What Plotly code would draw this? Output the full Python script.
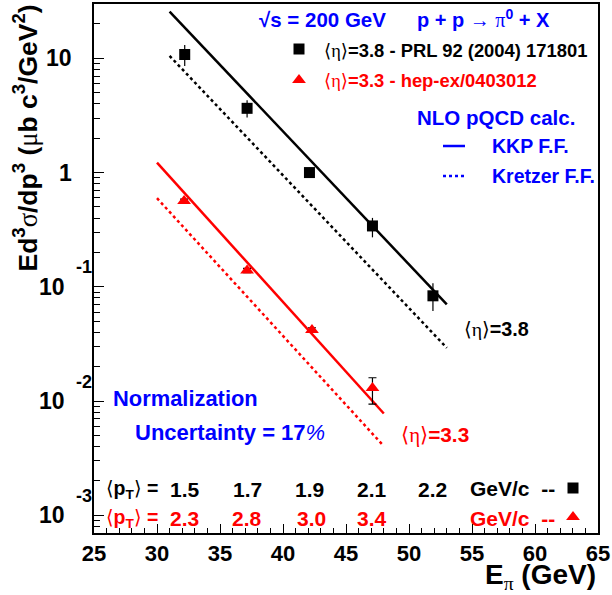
import numpy as np
import plotly.graph_objects as go

# ---------------- data ----------------
e_38 = [32.2, 37.15, 42.1, 47.1, 51.9]
xs_38 = [10.8, 3.65, 1.0, 0.341, 0.0834]
xs_38_up = [2.3, 0.65, 0.10, 0.06, 0.024]
xs_38_dn = [2.25, 0.61, 0.09, 0.07, 0.022]
pt_38 = ["1.5", "1.7", "1.9", "2.1", "2.2"]

e_33 = [32.15, 37.15, 42.3, 47.1]
xs_33 = [0.565, 0.139, 0.0418, 0.0130]
xs_33_up = [0.02, 0.006, 0.002, 0.003]
xs_33_dn = [0.02, 0.006, 0.002, 0.0036]
pt_33 = ["2.3", "2.8", "3.0", "3.4"]

kkp_38_x = [31.0, 53.0]
kkp_38_y = [25.6, 0.0702]
kre_38_x = [31.0, 53.0]
kre_38_y = [10.5, 0.0292]
kkp_33_x = [30.0, 48.0]
kkp_33_y = [1.22, 0.00778]
kre_33_x = [30.0, 48.0]
kre_33_y = [0.597, 0.00403]

x_range = [25, 65]
y_range = [-3.155, 1.4755]  # log10
x_ticks = [25, 30, 35, 40, 45, 50, 55, 60, 65]
y_decades = [-3, -2, -1, 0, 1]

# ---------------- layout helpers ----------------
W, H = 612, 595
L, R, T, B = 94, 14, 4, 62
PW, PH = W - L - R, H - T - B


def px(x):
    return (x - L) / PW


def py(y):
    return (H - B - y) / PH


FONT = "Liberation Sans, Arial, sans-serif"
GREEK = "font-weight:normal;font-family:Liberation Serif"
BRK = "font-weight:normal;font-family:DejaVu Sans"
BLUE = "#0000ff"
RED = "#ff0000"


def g(ch):
    return f"<span style='{GREEK}'>{ch}</span>"


def b(ch):
    return f"<span style='{BRK}'>{ch}</span>"


ETA = b("⟨") + g("η") + b("⟩")
PT = b("⟨") + "p<sub>T</sub>" + b("⟩")

fig = go.Figure()

# theory curves
fig.add_trace(go.Scatter(x=kkp_38_x, y=kkp_38_y, mode="lines",
                         line=dict(color="black", width=2.5)))
fig.add_trace(go.Scatter(x=kre_38_x, y=kre_38_y, mode="lines",
                         line=dict(color="black", width=2.5, dash="dot")))
fig.add_trace(go.Scatter(x=kkp_33_x, y=kkp_33_y, mode="lines",
                         line=dict(color=RED, width=2.5)))
fig.add_trace(go.Scatter(x=kre_33_x, y=kre_33_y, mode="lines",
                         line=dict(color=RED, width=2.5, dash="dot")))

# data points
fig.add_trace(go.Scatter(
    x=e_38, y=xs_38, mode="markers",
    marker=dict(symbol="square", size=11, color="black"),
    error_y=dict(type="data", array=xs_38_up, arrayminus=xs_38_dn,
                 color="black", thickness=1.2, width=0)))
fig.add_trace(go.Scatter(
    x=e_33, y=xs_33, mode="markers",
    marker=dict(symbol="triangle-up", size=12, color=RED),
    error_y=dict(type="data", array=xs_33_up, arrayminus=xs_33_dn,
                 color="black", thickness=1.2, width=4)))

# legend keys on an overlay [0,1]x[0,1] frame
key_sq_x = [px(299), px(573)]
key_sq_y = [py(49), py(488)]
key_tr_x = [px(299), px(573)]
key_tr_y = [py(80), py(517)]
fig.add_trace(go.Scatter(x=key_sq_x, y=key_sq_y, mode="markers", xaxis="x2", yaxis="y2",
                         marker=dict(symbol="square", size=11, color="black")))
fig.add_trace(go.Scatter(x=key_tr_x, y=key_tr_y, mode="markers", xaxis="x2", yaxis="y2",
                         marker=dict(symbol="triangle-up", size=12, color=RED)))
fig.add_trace(go.Scatter(x=[px(443), px(465)], y=[py(146)] * 2, mode="lines",
                         xaxis="x2", yaxis="y2", line=dict(color=BLUE, width=2.5)))
fig.add_trace(go.Scatter(x=[px(443), px(466)], y=[py(176)] * 2, mode="lines",
                         xaxis="x2", yaxis="y2", line=dict(color=BLUE, width=2.5, dash="dot")))

ann = []


def text(t, x, y, size, color, xanchor="left", xref="paper"):
    ann.append(dict(text=t, x=(px(x) if xref == "paper" else x), y=py(y),
                    xref=xref, yref="paper", xanchor=xanchor, yanchor="middle",
                    showarrow=False,
                    font=dict(family=FONT, size=size, color=color, weight="bold")))


text("√s = 200 GeV", 257, 20, 20.5, BLUE)
text("p + p → " + g("π") + "<sup>0</sup> + X", 415, 18, 20, BLUE)
text(ETA + "=3.8 - PRL 92 (2004) 171801", 322, 50, 18.4, "black")
text(ETA + "=3.3 - hep-ex/0403012", 322, 81, 18.4, RED)
text("NLO pQCD calc.", 415, 117, 20.5, BLUE)
text("KKP F.F.", 490, 146, 19.5, BLUE)
text("Kretzer F.F.", 490, 176, 19.5, BLUE)
text(ETA + "=3.8", 462, 329, 19.8, "black")
text(ETA + "=3.3", 399, 435, 20.8, RED)
text("Normalization", 111, 398, 21.9, BLUE)
text("Uncertainty = 17<span style='font-weight:normal;font-style:italic'>%</span>", 133, 432, 22, BLUE)
text(PT + " =", 104, 489, 19.5, "black")
text(PT + " =", 104, 518, 19.5, RED)
for xv, t in zip(e_38, pt_38):
    text(t, xv, 489, 21, "black", xanchor="center", xref="x")
for xv, t in zip(e_33, pt_33):
    text(t, xv, 518, 21, RED, xanchor="center", xref="x")
text("GeV/c  --", 468, 488, 21, "black")
text("GeV/c  --", 468, 518, 21, RED)

# y tick labels (ROOT style)
for d in y_decades:
    if d == 1:
        lab, right = "10", 74
    elif d == 0:
        lab, right = "1", 74
    else:
        lab, right = "10", 67
    ann.append(dict(text=lab, x=px(right), y=d, xref="paper", yref="y",
                    xanchor="right", yanchor="middle", showarrow=False,
                    font=dict(family=FONT, size=23, color="black", weight="bold")))
    if d < 0:
        ann.append(dict(text=str(d), x=px(94), y=d + 19.5 / 114.2, xref="paper", yref="y",
                        xanchor="right", yanchor="middle", showarrow=False,
                        font=dict(family=FONT, size=18, color="black", weight="bold")))

# axis titles
ann.append(dict(text="Ed<sup>3</sup>" + g("σ") + "/dp<sup>3</sup> (" + g("μ") + "b c<sup>3</sup>/GeV<sup>2</sup>)",
                x=px(25), y=py(3), xref="paper", yref="paper", textangle=-90,
                xanchor="center", yanchor="top", showarrow=False,
                font=dict(family=FONT, size=26.5, color="black", weight="bold")))
ann.append(dict(text="E<sub>" + g("π") + "</sub> (GeV)",
                x=px(598), y=py(576), xref="paper", yref="paper",
                xanchor="right", yanchor="middle", showarrow=False,
                font=dict(family=FONT, size=28, color="black", weight="bold")))

y_minor = [m * 10.0 ** d for d in range(-4, 2) for m in range(2, 10)
           if y_range[0] <= np.log10(m * 10.0 ** d) <= y_range[1]]

fig.update_layout(
    width=W, height=H,
    margin=dict(l=L, r=R, t=T, b=B, autoexpand=False),
    paper_bgcolor="white", plot_bgcolor="white",
    showlegend=False,
    annotations=ann,
    xaxis=dict(range=x_range, showgrid=False, zeroline=False, automargin=False,
               showline=True, linecolor="black", linewidth=1.5, mirror=True,
               ticks="inside", ticklen=9, tickwidth=1.2, tickcolor="black",
               tickvals=x_ticks,
               tickfont=dict(family=FONT, size=22, color="black", weight="bold"),
               minor=dict(ticks="inside", ticklen=5, tickwidth=1.2, tickcolor="black",
                          dtick=1, showgrid=False)),
    yaxis=dict(type="log", range=y_range, showgrid=False, zeroline=False, automargin=False,
               showline=True, linecolor="black", linewidth=1.5, mirror=True,
               ticks="inside", ticklen=10, tickwidth=1.2, tickcolor="black",
               tickvals=[10.0 ** d for d in y_decades], showticklabels=False,
               minor=dict(ticks="inside", ticklen=6, tickwidth=1.2, tickcolor="black",
                          tickvals=y_minor, showgrid=False)),
    xaxis2=dict(overlaying="x", range=[0, 1], visible=False, anchor="y2", automargin=False),
    yaxis2=dict(overlaying="y", range=[0, 1], visible=False, anchor="x2", automargin=False),
)

fig.write_html("out.html", config={"displayModeBar": False},
               post_script="document.body.style.margin='0';document.body.style.padding='0';")
